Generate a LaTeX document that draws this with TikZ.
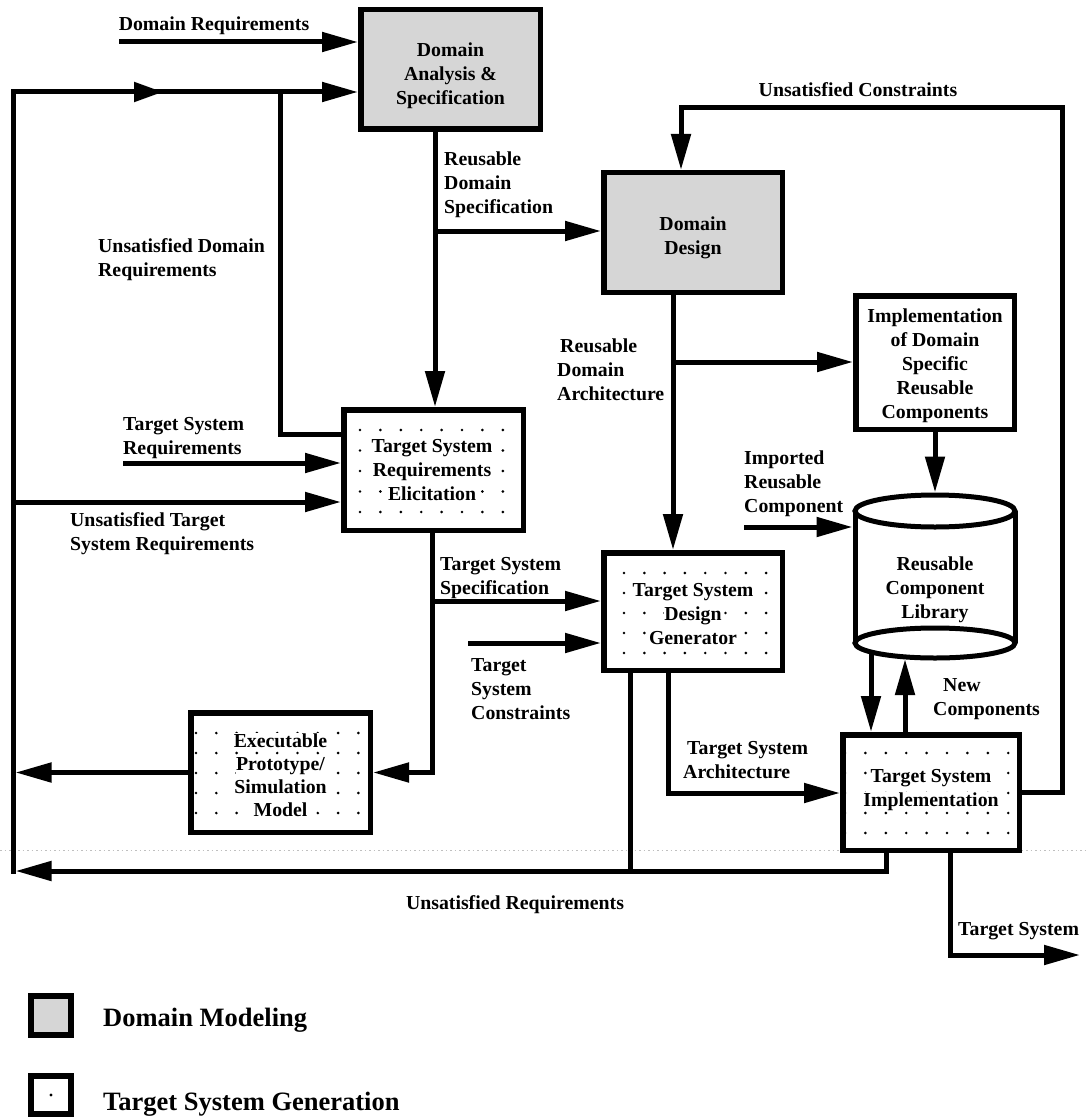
\documentclass[tikz,border=0pt]{standalone}
\usepackage{fontspec}
\setmainfont{Liberation Serif}
\usetikzlibrary{arrows.meta,backgrounds}
\newcommand{\lblfont}{\fontsize{19.8}{24}\selectfont\bfseries}
\newcommand{\legfont}{\fontsize{26.5}{30}\selectfont\bfseries}
\newcommand{\wb}[1]{{\setlength{\fboxsep}{0.6pt}\colorbox{white}{#1}}}
\definecolor{shade}{gray}{0.84}
\newcommand{\dotgrid}[6]{%
  \foreach \i in {0,...,#3}{\foreach \j in {0,...,#4}{\fill (#1+\i*#5,#2+\j*#6) circle (1.45);}}}
\begin{document}
\begin{tikzpicture}[x=1pt,y=-1pt,
  ln/.style={line width=5pt},
  arr/.style={line width=5pt,-{Triangle[length=36pt,width=19pt]}},
  marr/.style={line width=5pt,-{Triangle[length=29pt,width=19pt]}},
  box/.style={draw,line width=5.5pt,inner sep=0pt,outer sep=2.75pt},
  shadedbox/.style={box,fill=shade},
  btext/.style={inner sep=0pt,align=center,font=\lblfont},
  lbl/.style={inner sep=0pt,align=left,anchor=west,font=\lblfont}]

\useasboundingbox (0,0) rectangle (1086,1118);

\begin{scope}[on background layer]
  \fill[white] (0,0) rectangle (1086,1118);
  \draw[gray!50,line width=0.8pt,dash pattern=on 1.5pt off 3pt] (0,850) -- (1086,850);
  \dotgrid{360}{430}{7}{4}{20.4}{20.5}
  \dotgrid{624}{573}{7}{4}{20.3}{20}
  \dotgrid{845}{753}{8}{4}{20.4}{20}
  \dotgrid{196}{733}{8}{4}{20.3}{20}
\end{scope}

% boxes
\node[shadedbox,minimum width=179.5pt,minimum height=119.5pt] (DAS) at (450.5,69.5) {};
\node[btext] (DASt) at (450.5,75.5) {Domain\\Analysis \&\\Specification};
\node[shadedbox,minimum width=178.5pt,minimum height=119.5pt] (DD) at (693,232.5) {};
\node[btext] (DDt) at (693,237.5) {Domain\\Design};
\node[box,fill=white,minimum width=158.5pt,minimum height=133.5pt] (IDS) at (935,362.5) {};
\node[btext] (IDSt) at (935,365.5) {Implementation\\of Domain\\Specific\\Reusable\\Components};
\node[box,minimum width=179.5pt,minimum height=120.5pt] (TSRE) at (433.5,470) {};
\node[btext] (TSREt) at (432,470) {\wb{Target System}\\\wb{Requirements}\\\wb{Elicitation}};
\node[box,minimum width=178.5pt,minimum height=117.5pt] (DG) at (693,611.5) {};
\node[btext] (DGt) at (693,614.5) {\wb{Target System}\\\wb{Design}\\\wb{Generator}};
\node[box,minimum width=176.5pt,minimum height=115.5pt] (TSI) at (931,792.5) {};
\node[btext] (TSIt) at (931,790) {\wb{Target System}\\\wb{Implementation}};
\node[box,minimum width=179.5pt,minimum height=119.5pt] (EPSM) at (280.5,772.5) {};
\node[btext,font=\fontsize{19.8}{23}\selectfont\bfseries] (EPSMt) at (280.5,775.5) {\wb{Executable}\\\wb{Prototype/}\\\wb{Simulation}\\\wb{Model}};

% cylinder
\node[draw=none,minimum width=165pt,minimum height=168pt,inner sep=0pt,outer sep=0pt] (RCL) at (935,576.5) {};
\draw[ln] (935,511) ellipse [x radius=80, y radius=16];
\draw[ln] (935,643) ellipse [x radius=80, y radius=15];
\draw[ln] (855,511) -- (855,643);
\draw[ln] (1015,511) -- (1015,643);
\node[btext] (RCLt) at (935,590) {Reusable\\Component\\Library};

% labels
\node[font=\lblfont,inner sep=0pt] (lDR) at (214,26) {Domain Requirements};
\node[lbl] (lUDR) at (98,260) {Unsatisfied Domain\\Requirements};
\node[lbl] (lRDS) at (444,185) {Reusable\\Domain\\Specification};
\node[font=\lblfont,inner sep=0pt] (lUC) at (858,90) {Unsatisfied Constraints};
\node[lbl] (lRDA) at (557,370) {\hspace*{3pt}Reusable\\Domain\\Architecture};
\node[lbl] (lTSR) at (123,438) {Target System\\Requirements};
\node[lbl] (lUTSR) at (70,534) {Unsatisfied Target\\System Requirements};
\node[lbl] (lTSS) at (440,578) {Target System\\Specification};
\node[lbl] (lTSC) at (471,689) {Target\\System\\Constraints};
\node[lbl] (lIRC) at (744,484) {Imported\\Reusable\\Component};
\node[lbl] (lNC) at (933,699) {\hspace*{10pt}New\\Components};
\node[lbl] (lTSA) at (683,760) {\hspace*{4pt}Target System\\Architecture};
\node[font=\lblfont,inner sep=0pt] (lUR) at (515,905) {Unsatisfied Requirements};
\node[lbl] (lTS) at (958,931) {Target System};

% coordinates
\coordinate (LT) at (13,92);
\coordinate (LB) at (13,873.5);
\coordinate (LBe) at (15.5,871);
\coordinate (midA) at (163,92);
\coordinate (DRs) at (119,42);
\coordinate (UDR) at (280,434);
\coordinate (RDS) at (435,231);
\coordinate (UCr) at (1062,108);
\coordinate (UCl) at (681,108);
\coordinate (DDx) at (673,362);
\coordinate (IRC) at (744,527);
\coordinate (CD1) at (871,652);
\coordinate (CU1) at (905,659);
\coordinate (TSRs) at (123,463);
\coordinate (UTSRs) at (13,502);
\coordinate (TSSx) at (432,601);
\coordinate (TSCs) at (468,643);
\coordinate (TSAx) at (668,793);
\coordinate (UR1) at (630,871);
\coordinate (UR2) at (886,871);
\coordinate (TSo) at (950,955);
\coordinate (TSend) at (1080,955);

% connectors
\draw[arr] (DRs) -- (DRs -| DAS.west);
\draw[arr] (LB) -- (LT) -- (LT -| DAS.west);
\draw[marr] (LT) -- (midA);
\draw[ln] (UDR -| TSRE.west) -- (UDR) -- (UDR |- LT);
\draw[arr] (RDS |- DAS.south) -- (RDS |- TSRE.north);
\draw[arr] (RDS) -- (RDS -| DD.west);
\draw[arr] (TSI.east) -- (UCr |- TSI.east) -- (UCr) -- (UCl) -- (UCl |- DD.north);
\draw[arr] (DDx |- DD.south) -- (DDx |- DG.north);
\draw[arr] (DDx) -- (DDx -| IDS.west);
\draw[arr] (IDS.south) -- (RCL.north);
\draw[arr] (IRC) -- (IRC -| RCL.west);
\draw[arr] (CD1) -- (CD1 |- TSI.north);
\draw[arr] (CU1 |- TSI.north) -- (CU1);
\draw[arr] (TSRs) -- (TSRs -| TSRE.west);
\draw[arr] (UTSRs) -- (UTSRs -| TSRE.west);
\draw[arr] (TSSx |- TSRE.south) -- (TSSx |- EPSM.east) -- (EPSM.east);
\draw[arr] (TSSx) -- (TSSx -| DG.west);
\draw[arr] (TSCs) -- (TSCs -| DG.west);
\draw[arr] (TSAx |- DG.south) -- (TSAx) -- (TSAx -| TSI.west);
\draw[ln] (UR1 |- DG.south) -- (UR1);
\draw[arr] (UR2 |- TSI.south) -- (UR2) -- (LBe);
\draw[arr] (EPSM.west) -- (EPSM.west -| LBe);
\draw[arr] (TSo |- TSI.south) -- (TSo) -- (TSend);

% legend
\node[draw,line width=6pt,fill=shade,minimum width=40pt,minimum height=39pt,inner sep=0pt] (L1) at (51,1015.5) {};
\node[draw,line width=6pt,fill=white,minimum width=40pt,minimum height=38pt,inner sep=0pt] (L2) at (51,1095) {};
\fill (L2.center) circle (1.6);
\node[font=\legfont,anchor=west,inner sep=0pt] (L1t) at (103,1020) {Domain Modeling};
\node[font=\legfont,anchor=west,inner sep=0pt] (L2t) at (103,1104) {Target System Generation};
\end{tikzpicture}
\end{document}
